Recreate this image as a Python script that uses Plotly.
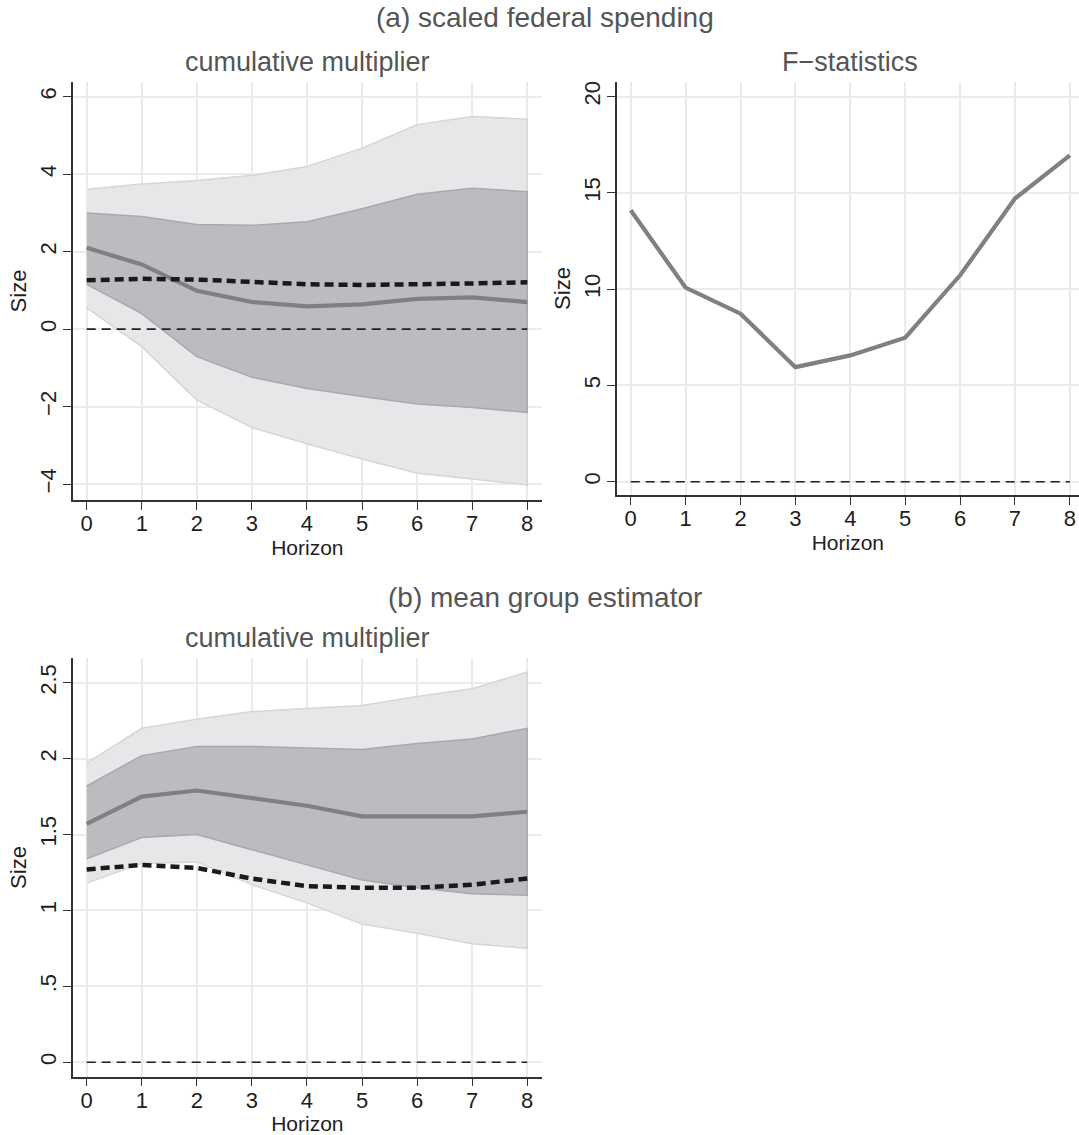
import plotly.graph_objects as go

W, H = 1079, 1135

horizon = [0, 1, 2, 3, 4, 5, 6, 7, 8]

# (a) scaled federal spending - cumulative multiplier
a_outer_upper = [3.61, 3.75, 3.84, 3.97, 4.20, 4.67, 5.28, 5.49, 5.42]
a_outer_lower = [0.55, -0.45, -1.83, -2.54, -2.96, -3.35, -3.72, -3.87, -4.02]
a_inner_upper = [3.00, 2.91, 2.70, 2.68, 2.77, 3.11, 3.48, 3.64, 3.55]
a_inner_lower = [1.16, 0.40, -0.71, -1.24, -1.53, -1.74, -1.93, -2.02, -2.15]
a_estimate = [2.10, 1.67, 0.99, 0.70, 0.59, 0.64, 0.78, 0.82, 0.70]
a_benchmark = [1.26, 1.30, 1.28, 1.21, 1.16, 1.14, 1.15, 1.18, 1.21]

# (a) F-statistics
f_stat = [14.10, 10.08, 8.73, 5.95, 6.56, 7.48, 10.72, 14.71, 16.95]

# (b) mean group estimator - cumulative multiplier
b_outer_upper = [1.97, 2.20, 2.26, 2.31, 2.33, 2.35, 2.41, 2.46, 2.57]
b_outer_lower = [1.18, 1.31, 1.32, 1.17, 1.05, 0.91, 0.85, 0.78, 0.75]
b_inner_upper = [1.82, 2.02, 2.08, 2.08, 2.07, 2.06, 2.10, 2.13, 2.20]
b_inner_lower = [1.34, 1.48, 1.50, 1.40, 1.30, 1.20, 1.15, 1.11, 1.10]
b_estimate = [1.57, 1.75, 1.79, 1.74, 1.69, 1.62, 1.62, 1.62, 1.65]
b_benchmark = [1.27, 1.30, 1.28, 1.21, 1.16, 1.15, 1.15, 1.17, 1.21]

zero_x = [0, 8]
zero_y = [0, 0]

a_yticks = [-4, -2, 0, 2, 4, 6]
f_yticks = [0, 5, 10, 15, 20]
b_yticks = [0, 0.5, 1, 1.5, 2, 2.5]
b_yticktext = ["0", ".5", "1", "1.5", "2", "2.5"]

FONT = "Liberation Sans, Arial, sans-serif"
OUTER_FILL = "#e6e7e9"
OUTER_EDGE = "#d5d6d8"
INNER_FILL = "#bbbcbf"
INNER_EDGE = "#a9aaad"
EST_COLOR = "#808080"
BENCH_COLOR = "#1a1a1a"
GRID = "#ebebeb"
AXIS = "#333333"
TXT = "#1e1e1e"
TITLE = "#555555"

fig = go.Figure()


def band(upper, lower, fill, edge, xa, ya):
    fig.add_trace(go.Scatter(
        x=horizon + horizon[::-1], y=upper + lower[::-1],
        fill="toself", fillcolor=fill, mode="lines",
        line=dict(color=edge, width=1.5), xaxis=xa, yaxis=ya,
        hoverinfo="skip", showlegend=False))


def zero(xa, ya):
    fig.add_trace(go.Scatter(
        x=zero_x, y=zero_y, mode="lines",
        line=dict(color="#222222", width=1.6, dash="9px,6px"),
        xaxis=xa, yaxis=ya, showlegend=False, hoverinfo="skip"))


def est(vals, xa, ya):
    fig.add_trace(go.Scatter(
        x=horizon, y=vals, mode="lines",
        line=dict(color=EST_COLOR, width=4.2),
        xaxis=xa, yaxis=ya, showlegend=False))


def bench(vals, xa, ya):
    fig.add_trace(go.Scatter(
        x=horizon, y=vals, mode="lines",
        line=dict(color=BENCH_COLOR, width=4.5, dash="9px,5px"),
        xaxis=xa, yaxis=ya, showlegend=False))


# Panel 1
band(a_outer_upper, a_outer_lower, OUTER_FILL, OUTER_EDGE, "x", "y")
band(a_inner_upper, a_inner_lower, INNER_FILL, INNER_EDGE, "x", "y")
zero("x", "y")
est(a_estimate, "x", "y")
bench(a_benchmark, "x", "y")

# Panel 2
zero("x2", "y2")
est(f_stat, "x2", "y2")

# Panel 3
band(b_outer_upper, b_outer_lower, OUTER_FILL, OUTER_EDGE, "x3", "y3")
band(b_inner_upper, b_inner_lower, INNER_FILL, INNER_EDGE, "x3", "y3")
zero("x3", "y3")
est(b_estimate, "x3", "y3")
bench(b_benchmark, "x3", "y3")


def px_x(p):
    return p / W


def px_y(p):
    return 1 - p / H


common_x = dict(
    tickmode="array", tickvals=horizon, ticks="outside", ticklen=8,
    tickwidth=1.4, tickcolor=AXIS, showline=True, linecolor=AXIS, linewidth=1.5,
    showgrid=True, gridcolor=GRID, gridwidth=1.6, zeroline=False,
    tickfont=dict(family=FONT, size=22, color=TXT), ticklabelstandoff=-5,
    title=dict(text="Horizon", font=dict(family=FONT, size=21, color=TXT), standoff=1),
)
common_y = dict(
    tickmode="array", ticks="outside", ticklen=8, tickangle=-90,
    tickwidth=1.4, tickcolor=AXIS, showline=True, linecolor=AXIS, linewidth=1.5,
    showgrid=True, gridcolor=GRID, gridwidth=1.6, zeroline=False,
    tickfont=dict(family=FONT, size=22, color=TXT), ticklabelstandoff=-2,
    title=dict(text="Size", font=dict(family=FONT, size=22, color=TXT), standoff=3),
)

fig.update_layout(
    width=W, height=H, margin=dict(l=0, r=0, t=0, b=0),
    paper_bgcolor="white", plot_bgcolor="white", showlegend=False,
    xaxis=dict(common_x, domain=[px_x(72.7), px_x(542)], range=[-0.254, 8.268], anchor="y"),
    yaxis=dict(common_y, domain=[px_y(500), px_y(82)], range=[-4.41, 6.38],
               tickvals=a_yticks, anchor="x"),
    xaxis2=dict(common_x, domain=[px_x(616.7), 1.0], range=[-0.255, 8.166], anchor="y2"),
    yaxis2=dict(common_y, domain=[px_y(495), px_y(82)], range=[-0.69, 20.76],
                tickvals=f_yticks, anchor="x2"),
    xaxis3=dict(common_x, domain=[px_x(72.7), px_x(542)], range=[-0.254, 8.268], anchor="y3"),
    yaxis3=dict(common_y, domain=[px_y(1076.7), px_y(658.3)], range=[-0.095, 2.661],
                tickvals=b_yticks, ticktext=b_yticktext, anchor="x3"),
)


def title(text, xc, yc, size):
    fig.add_annotation(text=text, x=px_x(xc), y=px_y(yc), xref="paper", yref="paper",
                       xanchor="center", yanchor="middle", showarrow=False,
                       font=dict(family=FONT, size=size, color=TITLE))


title("(a) scaled federal spending", 545, 18, 28)
title("cumulative multiplier", 307, 62, 27)
title("F\u2212statistics", 850, 62, 27)
title("(b) mean group estimator", 545, 597, 28)
title("cumulative multiplier", 307, 638, 27)

fig.write_html("out.html")
